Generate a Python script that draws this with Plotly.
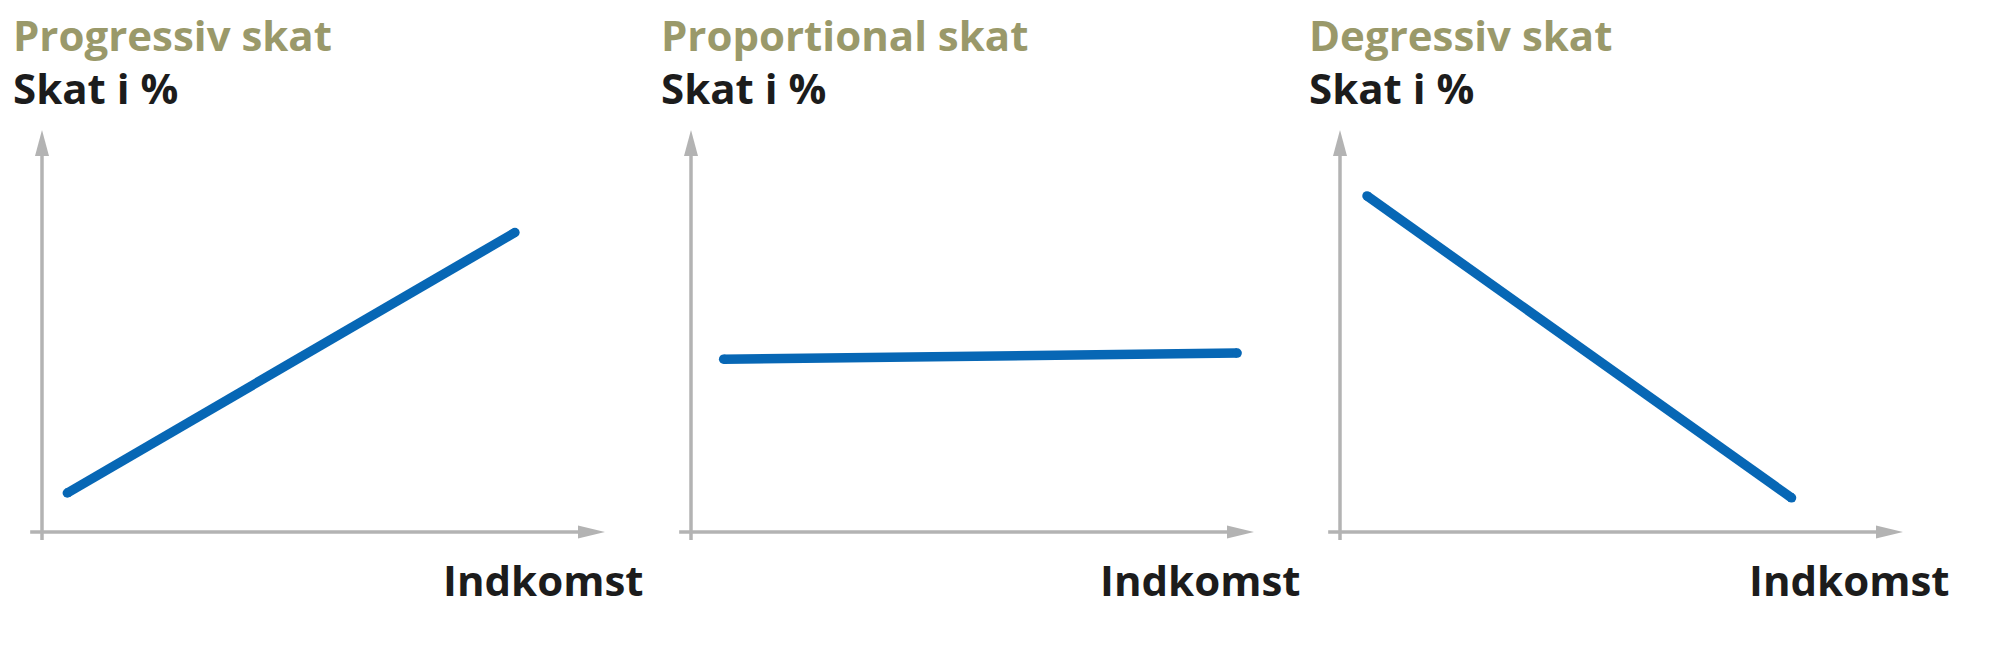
import plotly.graph_objects as go

# ---- data (schematic, in arbitrary units: income on x, tax % on y) ----
panel_titles = ["Progressiv skat", "Proportional skat", "Degressiv skat"]
y_label = "Skat i %"
x_label = "Indkomst"

income_prog = [0.45, 8.4]
tax_prog = [0.97, 7.45]

income_prop = [0.58, 9.7]
tax_prop = [4.3, 4.45]

income_degr = [0.48, 8.02]
tax_degr = [8.36, 0.85]

series_x = [income_prog, income_prop, income_degr]
series_y = [tax_prog, tax_prop, tax_degr]

# ---- style ----
W, H = 2000, 655
BLUE = "#0767b5"
GREY = "#b3b3b3"
OLIVE = "#9a996a"
DARK = "#1c1c1c"
FONT = "Open Sans"

PX_X = 56.3      # pixels per x unit
PX_Y = 40.2      # pixels per y unit
X_RANGE = [-0.5, 10.3]
Y_RANGE = [-0.5, 10.3]
ORIGIN_X = [42, 691, 1340]     # pixel x of each origin
ORIGIN_Y = 532                 # pixel y (from top) of origin
TITLE_LEFT = [11, 659, 1307]   # pixel x of title left edges
XLABEL_RIGHT = [645, 1302, 1951]  # pixel x of "Indkomst" right edges

fig = go.Figure()

annotations = []
shapes = []

for i in range(3):
    n = "" if i == 0 else str(i + 1)
    xa, ya = "x" + n, "y" + n
    left = ORIGIN_X[i] + X_RANGE[0] * PX_X
    right = ORIGIN_X[i] + X_RANGE[1] * PX_X
    bottom = ORIGIN_Y - Y_RANGE[0] * PX_Y
    top = ORIGIN_Y - Y_RANGE[1] * PX_Y
    axis_common = dict(showgrid=False, zeroline=False, showticklabels=False,
                       ticks="", showline=False, fixedrange=True)
    fig.layout["xaxis" + n] = dict(domain=[left / W, right / W], range=X_RANGE,
                                   anchor=ya, **axis_common)
    fig.layout["yaxis" + n] = dict(domain=[(H - bottom) / H, (H - top) / H],
                                   range=Y_RANGE, anchor=xa, **axis_common)

    # axes lines
    shapes.append(dict(type="line", xref=xa, yref=ya, x0=-0.21, y0=0, x1=9.7, y1=0,
                       line=dict(color=GREY, width=3.5), layer="below"))
    shapes.append(dict(type="line", xref=xa, yref=ya, x0=0, y0=-0.2, x1=0, y1=9.5,
                       line=dict(color=GREY, width=3.5), layer="below"))
    # arrow heads (pixel sized, anchored at axis tips)
    shapes.append(dict(type="path", xref=xa, yref=ya, xsizemode="pixel", ysizemode="pixel",
                       xanchor=10, yanchor=0, path="M0,0 L-27,6.5 L-27,-6.5 Z",
                       fillcolor=GREY, line=dict(width=0), layer="below"))
    shapes.append(dict(type="path", xref=xa, yref=ya, xsizemode="pixel", ysizemode="pixel",
                       xanchor=0, yanchor=10, path="M0,0 L-7,-26 L7,-26 Z",
                       fillcolor=GREY, line=dict(width=0), layer="below"))

    fig.add_trace(go.Scatter(x=series_x[i], y=series_y[i], xaxis=xa, yaxis=ya,
                             mode="lines+markers",
                             line=dict(color=BLUE, width=9.5),
                             marker=dict(color=BLUE, size=9.5, line=dict(width=0)),
                             hoverinfo="skip", showlegend=False))

    annotations.append(dict(text=panel_titles[i], xref="paper", yref="paper",
                            x=TITLE_LEFT[i] / W, y=(H - 35) / H, xanchor="left", yanchor="middle",
                            showarrow=False,
                            font=dict(family=FONT, size=42, color=OLIVE, weight="bold")))
    annotations.append(dict(text=y_label, xref="paper", yref="paper",
                            x=TITLE_LEFT[i] / W, y=(H - 88) / H, xanchor="left", yanchor="middle",
                            showarrow=False,
                            font=dict(family=FONT, size=42, color=DARK, weight="bold")))
    annotations.append(dict(text=x_label, xref="paper", yref="paper",
                            x=XLABEL_RIGHT[i] / W, y=(H - 579) / H, xanchor="right", yanchor="middle",
                            showarrow=False,
                            font=dict(family=FONT, size=42, color=DARK, weight="bold")))

fig.update_layout(width=W, height=H, margin=dict(l=0, r=0, t=0, b=0),
                  paper_bgcolor="white", plot_bgcolor="white",
                  shapes=shapes, annotations=annotations, showlegend=False)

fig.write_html("out.html", config={"displayModeBar": False},
               post_script="document.body.style.margin='0';")
